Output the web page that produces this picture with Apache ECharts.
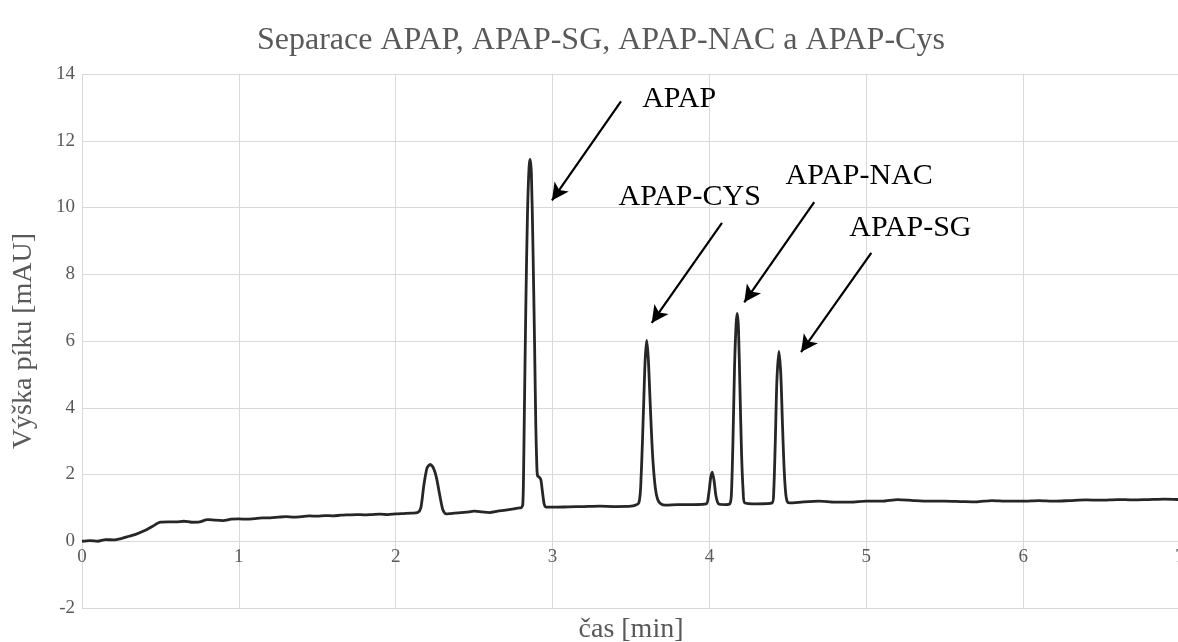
<!DOCTYPE html>
<html>
<head>
<meta charset="utf-8">
<script src="https://cdn.jsdelivr.net/npm/echarts@6/dist/echarts.min.js"></script>
<style>html,body{margin:0;padding:0;background:#fff}#c{width:1178px;height:642px}</style>
</head>
<body>
<div id="c"></div>
<script>
// time [min]
const times = [
  0,0.05,0.1,0.15,0.2,0.25,0.3,0.35,0.4,0.45,0.5,0.55,0.6,0.65,0.7,0.75,0.8,0.85,0.9,0.95,
  1.0,1.05,1.1,1.15,1.2,1.25,1.3,1.35,1.4,1.45,1.5,1.55,1.6,1.65,1.7,1.75,1.8,1.85,1.9,1.95,
  2.0,2.05,2.1,2.14,2.16,2.18,2.2,2.22,2.24,2.26,2.28,2.3,2.32,2.35,2.4,2.45,2.5,2.55,2.6,2.65,2.7,2.75,2.79,
  2.80,2.81,2.815,2.82,2.83,2.84,2.85,2.857,2.865,2.875,2.885,2.893,2.9,2.905,2.915,2.925,2.935,2.945,2.955,
  3.0,3.1,3.2,3.3,3.4,3.5,3.55,3.565,3.58,3.59,3.6,3.61,3.62,3.63,3.64,3.655,3.67,3.69,3.72,3.8,3.9,
  3.98,3.995,4.008,4.018,4.03,4.042,4.058,4.1,
  4.13,4.14,4.15,4.16,4.17,4.177,4.185,4.195,4.205,4.215,4.225,4.3,
  4.40,4.41,4.42,4.43,4.443,4.455,4.465,4.475,4.485,4.495,4.51,
  4.6,4.7,4.8,4.9,5.0,5.1,5.2,5.3,5.4,5.5,5.6,5.7,5.8,5.9,6.0,6.1,6.2,6.3,6.4,6.5,6.6,6.7,6.8,6.9,7.0
];
// peak height [mAU]
const signal = [
  0.0,0.02,0.0,0.05,0.04,0.08,0.15,0.22,0.32,0.45,0.57,0.58,0.58,0.6,0.57,0.58,0.65,0.63,0.62,0.66,
  0.67,0.66,0.68,0.7,0.7,0.72,0.74,0.72,0.74,0.76,0.75,0.77,0.76,0.78,0.79,0.8,0.79,0.8,0.81,0.8,
  0.82,0.83,0.84,0.86,1.0,1.7,2.2,2.3,2.2,1.9,1.4,0.95,0.82,0.83,0.85,0.87,0.9,0.88,0.86,0.9,0.93,0.97,1.0,
  1.0,1.1,2.0,3.8,7.2,9.8,11.2,11.44,11.0,8.8,6.0,3.5,2.2,1.95,1.92,1.85,1.5,1.15,1.03,
  1.02,1.03,1.04,1.05,1.04,1.05,1.15,2.0,4.0,5.4,6.02,5.5,4.4,3.3,2.4,1.6,1.25,1.12,1.08,1.1,1.1,
  1.12,1.4,1.9,2.07,1.8,1.35,1.12,1.1,
  1.12,1.4,3.0,5.2,6.5,6.83,6.4,4.5,2.6,1.5,1.15,1.12,
  1.15,1.5,3.0,4.8,5.69,5.0,3.6,2.3,1.5,1.2,1.15,
  1.18,1.2,1.17,1.17,1.2,1.2,1.25,1.22,1.2,1.2,1.19,1.18,1.22,1.2,1.2,1.22,1.2,1.22,1.24,1.23,1.25,1.24,1.25,1.26,1.25
];
const xTicks = [0,1,2,3,4,5,6,7];
const yTicks = [-2,0,2,4,6,8,10,12,14];

// annotations (data units)
const labelNames = ['APAP','APAP-CYS','APAP-NAC','APAP-SG'];
const labelAt = [[3.807,13.26],[3.874,10.30],[4.955,10.93],[5.281,9.37]];
const arrowFrom = [[3.436,13.18],[4.080,9.54],[4.668,10.16],[5.032,8.64]];
const arrowTo = [[2.996,10.21],[3.632,6.54],[4.222,7.16],[4.584,5.67]];

const serif = 'Liberation Serif';
const grey = '#595959';
const gridTop = 74, gridBottom = 34, H = 642;
const plotH = H - gridTop - gridBottom;
// shift x axis up so it sits on y = 0 (Excel-style crossing)
const zeroOffset = -plotH * (0 - yTicks[0]) / (yTicks[yTicks.length-1] - yTicks[0]);

const chart = echarts.init(document.getElementById('c'), null, {renderer:'canvas'});
chart.setOption({
  backgroundColor:'#fff',
  animation:false,
  title:{text:'Separace APAP, APAP-SG, APAP-NAC a APAP-Cys',left:252,top:20,
    textStyle:{fontFamily:serif,fontSize:32,fontWeight:'normal',color:grey}},
  grid:{left:82,right:-2,top:gridTop,bottom:gridBottom,containLabel:false,outerBoundsMode:'none'},
  xAxis:{type:'value',min:xTicks[0],max:xTicks[xTicks.length-1],interval:1,
    offset:zeroOffset,
    name:'čas [min]',nameLocation:'middle',nameGap:74,
    nameTextStyle:{fontFamily:serif,fontSize:28,color:grey},
    axisLine:{show:true,onZero:false,lineStyle:{color:'#d9d9d9'}},
    axisTick:{show:false},
    axisLabel:{fontFamily:serif,fontSize:19,color:grey,margin:6},
    splitLine:{show:true,lineStyle:{color:'#d9d9d9',width:1}}},
  yAxis:{type:'value',min:yTicks[0],max:yTicks[yTicks.length-1],interval:2,
    name:'Výška píku [mAU]',nameLocation:'middle',nameGap:44,
    nameTextStyle:{fontFamily:serif,fontSize:28,color:grey},
    axisLine:{show:false},axisTick:{show:false},
    axisLabel:{fontFamily:serif,fontSize:19,color:grey,margin:7},
    splitLine:{show:true,lineStyle:{color:'#d9d9d9',width:1}}},
  series:[{
    type:'line',
    data:times.map((t,i)=>[t,signal[i]]),
    showSymbol:false,symbol:'none',
    smooth:0.25,
    lineStyle:{color:'#262626',width:2.8},
    markLine:{
      silent:true,symbol:['none','arrow'],symbolSize:[13,17],
      lineStyle:{color:'#000',width:2.2,type:'solid'},
      label:{show:false},
      data:arrowFrom.map((f,i)=>[{coord:f},{coord:arrowTo[i]}])
    },
    markPoint:{
      silent:true,symbol:'circle',symbolSize:1,
      itemStyle:{color:'rgba(0,0,0,0)'},
      label:{show:true,position:'inside',formatter:'{b}',fontFamily:serif,fontSize:30,color:'#000'},
      data:labelNames.map((n,i)=>({name:n,coord:labelAt[i]}))
    }
  }]
});
</script>
</body>
</html>
